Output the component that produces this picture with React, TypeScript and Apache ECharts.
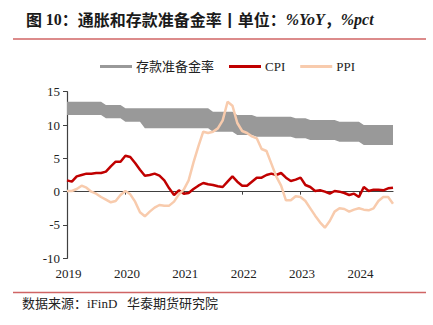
import React, { useEffect, useRef } from "react";
import * as echarts from "echarts";

// Monthly categories Jan 2019 – Aug 2024
const years = [2019, 2020, 2021, 2022, 2023, 2024];
const months: string[] = [];
years.forEach((y) => {
  for (let m = 1; m <= 12; m++) {
    if (y === 2024 && m > 8) break;
    months.push(`${y}-${m < 10 ? "0" + m : m}`);
  }
});

// CPI YoY (%)
const cpi = [
  1.7, 1.5, 2.3, 2.5, 2.7, 2.7, 2.8, 2.8, 3.0, 3.8, 4.5, 4.5,
  5.4, 5.2, 4.3, 3.3, 2.4, 2.5, 2.7, 2.4, 1.7, 0.5, -0.5, 0.2,
  -0.3, -0.2, 0.4, 0.9, 1.3, 1.1, 1.0, 0.8, 0.7, 1.5, 2.3, 1.5,
  0.9, 0.9, 1.5, 2.1, 2.1, 2.5, 2.7, 2.5, 2.8, 2.1, 1.6, 1.8,
  2.1, 1.0, 0.7, 0.1, 0.2, 0.0, -0.3, 0.1, 0.0, -0.2, -0.5, -0.3,
  -0.8, 0.7, 0.1, 0.3, 0.3, 0.2, 0.5, 0.6,
];

// PPI YoY (%)
const ppi = [
  0.1, 0.1, 0.4, 0.9, 0.6, 0.0, -0.3, -0.8, -1.2, -1.6, -1.4, -0.5,
  0.1, -0.4, -1.5, -3.1, -3.7, -3.0, -2.4, -2.0, -2.1, -2.1, -1.5, -0.4,
  0.3, 1.7, 4.4, 6.8, 9.0, 8.8, 9.0, 9.5, 10.7, 13.5, 12.9, 10.3,
  9.1, 8.8, 8.3, 8.0, 6.4, 6.1, 4.2, 2.3, 0.9, -1.3, -1.3, -0.7,
  -0.8, -1.4, -2.5, -3.6, -4.6, -5.4, -4.4, -3.0, -2.5, -2.6, -3.0, -2.7,
  -2.5, -2.7, -2.8, -2.5, -1.4, -0.8, -0.8, -1.8,
];

// Reserve requirement ratio: large banks (upper) and small/medium banks (lower), %
const rrrLarge = [
  13.5, 13.5, 13.5, 13.5, 13.5, 13.5, 13.5, 13.5, 13.0, 13.0, 13.0, 13.0,
  12.5, 12.5, 12.5, 12.5, 12.5, 12.5, 12.5, 12.5, 12.5, 12.5, 12.5, 12.5,
  12.5, 12.5, 12.5, 12.5, 12.5, 12.5, 12.0, 12.0, 12.0, 12.0, 12.0, 11.5,
  11.5, 11.5, 11.5, 11.25, 11.25, 11.25, 11.25, 11.25, 11.25, 11.25, 11.25, 11.0,
  11.0, 11.0, 10.75, 10.75, 10.75, 10.75, 10.75, 10.75, 10.5, 10.5, 10.5, 10.5,
  10.5, 10.0, 10.0, 10.0, 10.0, 10.0, 10.0, 10.0,
];
const rrrSmall = [
  11.5, 11.5, 11.5, 11.5, 11.5, 11.5, 11.5, 11.5, 11.0, 11.0, 11.0, 11.0,
  10.5, 10.5, 10.5, 10.5, 9.5, 9.5, 9.5, 9.5, 9.5, 9.5, 9.5, 9.5,
  9.5, 9.5, 9.5, 9.5, 9.5, 9.5, 9.0, 9.0, 9.0, 9.0, 9.0, 8.5,
  8.5, 8.5, 8.5, 8.25, 8.25, 8.25, 8.25, 8.25, 8.25, 8.25, 8.25, 8.0,
  8.0, 8.0, 7.75, 7.75, 7.75, 7.75, 7.75, 7.75, 7.5, 7.5, 7.5, 7.5,
  7.5, 7.0, 7.0, 7.0, 7.0, 7.0, 7.0, 7.0,
];

const yTicks = { min: -10, max: 15, interval: 5 };

const SERIF = "'Liberation Serif', 'Times New Roman', 'Noto Sans CJK SC', serif";
const CJK_BOLD = "'Noto Sans CJK SC', sans-serif";

export default function App() {
  const ref = useRef<HTMLDivElement>(null);
  useEffect(() => {
    if (!ref.current) return;
    const chart = echarts.init(ref.current, null, { renderer: "svg" });
    const band = rrrLarge.map((v, i) => +(v - rrrSmall[i]).toFixed(2));
    chart.setOption({
      animation: false,
      backgroundColor: "#fff",
      title: {
        left: 21,
        top: 6,
        text:
          "{a|图 }{n|10}{a|：通胀和存款准备金率丨单位：}{i|%YoY}{a|，}{i|%pct}",
        textStyle: {
          rich: {
            a: { fontFamily: CJK_BOLD, fontWeight: "bold", fontSize: 16, color: "#1a1a1a" },
            n: { fontFamily: SERIF, fontWeight: "bold", fontSize: 16, color: "#1a1a1a" },
            i: { fontFamily: SERIF, fontWeight: "bold", fontStyle: "italic", fontSize: 16, color: "#1a1a1a" },
          },
        },
      },
      graphic: [
        {
          type: "line",
          shape: { x1: 13, y1: 39, x2: 426, y2: 39 },
          style: { stroke: "#d06464", lineWidth: 1.5 },
        },
        {
          type: "line",
          shape: { x1: 13, y1: 292.5, x2: 426, y2: 292.5 },
          style: { stroke: "#d06464", lineWidth: 1.5 },
        },
        {
          type: "text",
          x: 22,
          y: 303,
          style: {
            text: "数据来源：iFinD   华泰期货研究院",
            font: `13px ${SERIF}`,
            fill: "#222",
            verticalAlign: "middle",
          },
        },
      ],
      legend: {
        left: 95,
        top: 55,
        itemWidth: 32,
        itemHeight: 3,
        itemGap: 15,
        icon: "rect",
        textStyle: { fontFamily: SERIF, fontSize: 13, color: "#222", padding: [0, 0, 0, -1] },
        data: ["存款准备金率", "CPI", "PPI"],
      },
      grid: { left: 67, right: 40, top: 91.7, bottom: 66.7 },
      xAxis: [
        {
          type: "category",
          data: months,
          boundaryGap: false,
          position: "bottom",
          axisLine: { show: false, onZero: false },
          axisTick: { show: false },
          axisLabel: {
            interval: 11,
            margin: 9,
            fontFamily: SERIF,
            fontSize: 13,
            color: "#222",
            padding: [0, 0, 0, 3],
            formatter: (v: string) => v.slice(0, 4),
          },
          splitLine: { show: false },
        },
        {
          type: "category",
          data: months,
          boundaryGap: false,
          position: "top",
          axisLine: { show: true, onZero: true, lineStyle: { color: "#404040", width: 1.2 } },
          axisTick: { show: true, inside: true, interval: 11, length: 3, lineStyle: { color: "#404040" } },
          axisLabel: { show: false },
          splitLine: { show: false },
        },
      ],
      yAxis: {
        type: "value",
        min: yTicks.min,
        max: yTicks.max,
        interval: yTicks.interval,
        axisLine: { show: true, lineStyle: { color: "#404040", width: 1.2 } },
        axisTick: { show: true, length: 4, lineStyle: { color: "#404040" } },
        axisLabel: { fontFamily: SERIF, fontSize: 13, color: "#222", margin: 7 },
        splitLine: { show: false },
      },
      series: [
        {
          name: "rrrBase",
          type: "line",
          stack: "rrr",
          data: rrrSmall,
          symbol: "none",
          lineStyle: { width: 0, opacity: 0 },
          silent: true,
        },
        {
          name: "存款准备金率",
          type: "line",
          stack: "rrr",
          data: band,
          symbol: "none",
          color: "#999999",
          lineStyle: { width: 0, opacity: 0 },
          areaStyle: { color: "#999999", opacity: 1 },
        },
        {
          name: "CPI",
          type: "line",
          data: cpi,
          symbol: "none",
          color: "#c00000",
          lineStyle: { width: 2.5, color: "#c00000" },
        },
        {
          name: "PPI",
          type: "line",
          data: ppi,
          symbol: "none",
          color: "#f8cbad",
          lineStyle: { width: 2.5, color: "#f8cbad" },
        },
      ],
    });
    return () => chart.dispose();
  }, []);
  return (
    <div
      ref={ref}
      style={{ position: "fixed", left: 0, top: 0, width: 433, height: 325 }}
    />
  );
}
